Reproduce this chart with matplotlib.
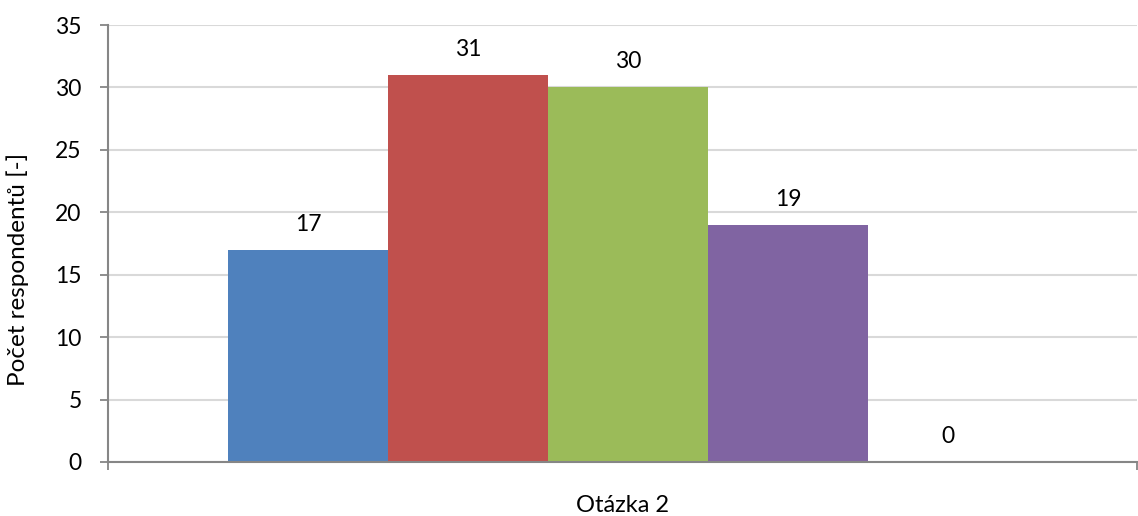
import matplotlib
matplotlib.use("Agg")
import matplotlib.pyplot as plt
from matplotlib.ticker import FixedLocator

# Data
category = "Otázka 2"
values = [17, 31, 30, 19, 0]
colors = ["#4F81BD", "#C0504D", "#9BBB59", "#8064A2", "#4BACC6"]
y_label = "Počet respondentů [-]"
y_ticks = [0, 5, 10, 15, 20, 25, 30, 35]

plt.rcParams["font.family"] = ["Lato", "DejaVu Sans"]
FS = 16.5

fig = plt.figure(figsize=(11.38, 5.16), dpi=100)
ax = fig.add_axes([108 / 1138, 54 / 516, 1029 / 1138, 437 / 516])

x = list(range(len(values)))
ax.bar(x, values, width=1.0, color=colors, zorder=3, linewidth=0)

for xi, v in zip(x, values):
    ax.annotate(str(v), (xi, v), xytext=(0, 18.5), textcoords="offset points",
                ha="center", va="center", fontsize=FS, color="#000000")

x_left, x_right = -1.25, 5.18
ax.set_xlim(x_left, x_right)
ax.set_ylim(0, 35)

# Y axis
ax.set_yticks(y_ticks)
ax.tick_params(axis="y", direction="out", length=6, width=1.3, color="#868686",
               labelsize=FS, pad=13)
ax.yaxis.grid(True, color="#D9D9D9", linewidth=1.5, zorder=0)
ax.set_ylabel(y_label, fontsize=17.5, va="center")
ax.yaxis.set_label_coords(-0.088, 0.44)

# X axis: category label at the centre, boundary tick marks at the ends
ax.set_xticks([(x_left + x_right) / 2])
ax.set_xticklabels([category])
ax.tick_params(axis="x", which="major", length=0, labelsize=FS + 0.5, pad=24)
ax.xaxis.set_minor_locator(FixedLocator([x_left, x_right]))
ax.tick_params(axis="x", which="minor", direction="out", length=6, width=1.3,
               color="#868686")

for side in ("top", "right"):
    ax.spines[side].set_visible(False)
for side in ("left", "bottom"):
    ax.spines[side].set_color("#868686")
    ax.spines[side].set_linewidth(1.5)
    ax.spines[side].set_zorder(4)

fig.savefig("out.png", dpi=100, facecolor="white")
